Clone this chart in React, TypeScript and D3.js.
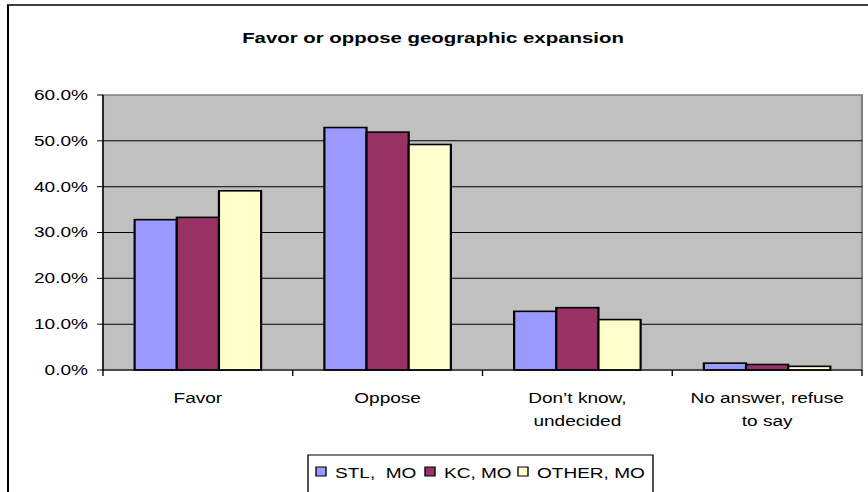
import React from 'react';
import * as d3 from 'd3';

const categories = [['Favor'], ['Oppose'], ['Don’t know,', 'undecided'], ['No answer, refuse', 'to say']];
const seriesNames = ['STL,  MO', 'KC, MO', 'OTHER, MO'];
const stl = [32.8, 52.9, 12.8, 1.5];
const kc = [33.3, 51.9, 13.6, 1.2];
const other = [39.1, 49.2, 11.0, 0.8];
const yTicks = [0, 10, 20, 30, 40, 50, 60];
const colors = ['#9999FF', '#993366', '#FFFFCC'];

// the picture is stretched sideways, so draw in a narrow box and stretch it
const SX = 1.36;
const W = 868;
const H = 492;
const px = (v: number) => v / SX;

const FONT = "Arial, 'Liberation Sans', sans-serif";

const App: React.FC = () => {
  const series = [stl, kc, other];
  const plot = { left: 103, right: 862, top: 95, bottom: 370 };

  const x = d3.scaleBand<number>()
    .domain(categories.map((_, i) => i))
    .range([px(plot.left), px(plot.right)])
    .paddingInner(1 / 3)
    .paddingOuter(1 / 6);
  const xs = d3.scaleBand<number>()
    .domain(series.map((_, i) => i))
    .range([0, x.bandwidth()]);
  const y = d3.scaleLinear().domain([0, 60]).range([plot.bottom, plot.top]);

  const step = x.step();
  const catEdges = d3.range(categories.length + 1).map(i => px(plot.left) + i * step);

  const legendX = [316, 425, 518];

  return (
    <div style={{ position: 'absolute', left: 0, top: 0 }}>
      <svg width={W} height={H} viewBox={`0 0 ${W / SX} ${H}`} preserveAspectRatio="none"
        style={{ display: 'block', fontFamily: FONT }}>
        <rect x={0} y={0} width={W / SX} height={H} fill="#fff" />
        {/* chart frame */}
        <rect x={px(8)} y={5} width={W / SX + 10} height={H + 10} fill="none" stroke="#000" strokeWidth={1.5} />

        <text x={px(433)} y={43} textAnchor="middle" fontWeight="bold" fontSize={15} fill="#000">
          Favor or oppose geographic expansion
        </text>

        {/* plot area */}
        <rect x={px(plot.left)} y={plot.top} width={px(plot.right - plot.left)} height={plot.bottom - plot.top}
          fill="#C0C0C0" stroke="#808080" strokeWidth={1.5} />
        {yTicks.filter(t => t > 0 && t < 60).map(t => (
          <line key={t} x1={px(plot.left)} x2={px(plot.right)} y1={y(t)} y2={y(t)} stroke="#000" strokeWidth={1} />
        ))}

        {/* bars */}
        {categories.map((_, ci) => (
          <g key={ci} transform={`translate(${x(ci)},0)`}>
            {series.map((s, si) => (
              <rect key={si} x={xs(si)} y={y(s[ci])} width={xs.bandwidth()} height={y(0) - y(s[ci])}
                fill={colors[si]} stroke="#000" strokeWidth={1.6} />
            ))}
          </g>
        ))}

        {/* y axis */}
        <line x1={px(plot.left)} x2={px(plot.left)} y1={plot.top} y2={plot.bottom} stroke="#000" strokeWidth={1} />
        {yTicks.map(t => (
          <g key={t}>
            <line x1={px(plot.left - 6)} x2={px(plot.left)} y1={y(t)} y2={y(t)} stroke="#000" strokeWidth={1} />
            <text x={px(plot.left - 15)} y={y(t) + 5} textAnchor="end" fontSize={14} fill="#000">
              {t.toFixed(1) + '%'}
            </text>
          </g>
        ))}

        {/* x axis */}
        <line x1={px(plot.left)} x2={px(plot.right)} y1={plot.bottom} y2={plot.bottom} stroke="#000" strokeWidth={1} />
        {catEdges.map((e, i) => (
          <line key={i} x1={e} x2={e} y1={plot.bottom} y2={plot.bottom + 6} stroke="#000" strokeWidth={1} />
        ))}
        {categories.map((lines, ci) => (
          <text key={ci} x={(x(ci) ?? 0) + x.bandwidth() / 2} y={403} textAnchor="middle" fontSize={14} fill="#000">
            {lines.map((l, li) => (
              <tspan key={li} x={(x(ci) ?? 0) + x.bandwidth() / 2} dy={li === 0 ? 0 : 23}>{l}</tspan>
            ))}
          </text>
        ))}

        {/* legend */}
        <rect x={px(308)} y={455} width={px(653 - 308)} height={60} fill="#fff" stroke="#000" strokeWidth={1} />
        {seriesNames.map((name, i) => (
          <g key={name}>
            <rect x={px(legendX[i])} y={467} width={px(10)} height={9} fill={colors[i]} stroke="#000" strokeWidth={1} />
            <text x={px(legendX[i] + 19)} y={478} fontSize={14} fill="#000" style={{ whiteSpace: 'pre' }}>{name}</text>
          </g>
        ))}
      </svg>
    </div>
  );
};

export default App;
